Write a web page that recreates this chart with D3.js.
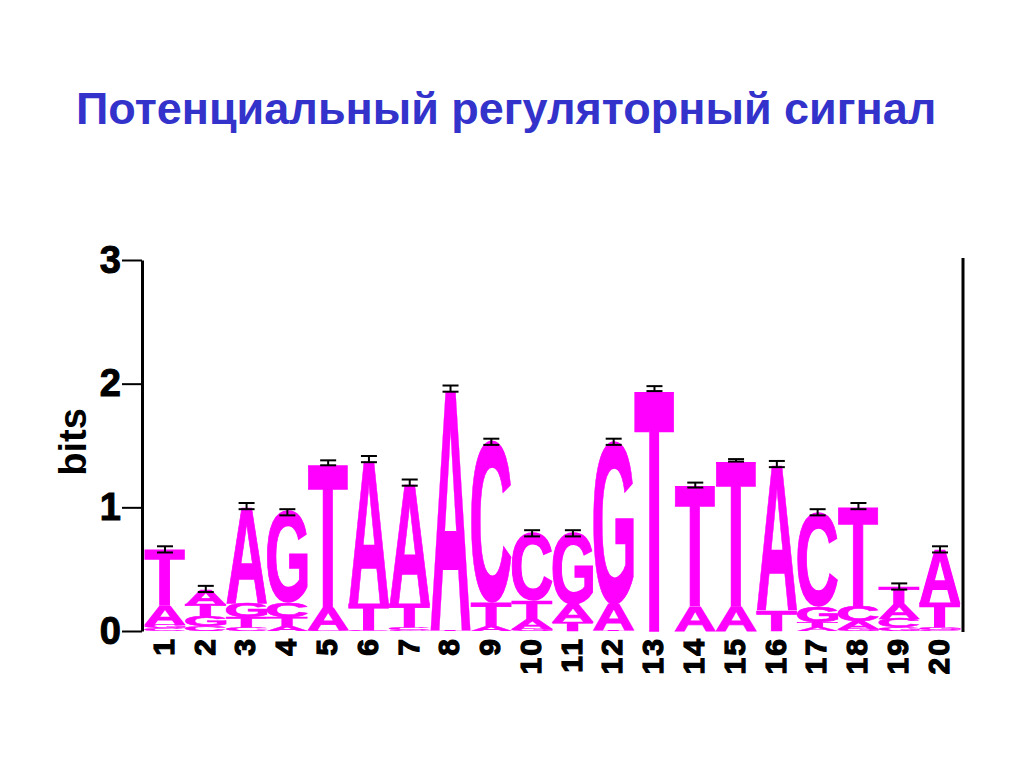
<!DOCTYPE html>
<html><head><meta charset="utf-8">
<script src="https://cdn.jsdelivr.net/npm/d3@7"></script>
<style>body{margin:0;background:#fff} svg{display:block}</style>
</head><body>
<svg id="c" width="1024" height="768"></svg>
<script>
// ---- data (bits per letter, per position) ----
const positions = ["1","2","3","4","5","6","7","8","9","10","11","12","13","14","15","16","17","18","19","20"];
const bitsA = [0.16,0.13,0.78,0.04,0.18,1.17,0.98,1.95,0.04,0.08,0.15,0.21,0.00,0.20,0.20,1.18,0.03,0.06,0.12,0.43];
const bitsC = [0.02,0.04,0.03,0.12,0.01,0.01,0.02,0.00,1.30,0.54,0.00,0.00,0.00,0.00,0.00,0.00,0.76,0.13,0.07,0.01];
const bitsG = [0.03,0.08,0.12,0.73,0.00,0.00,0.01,0.00,0.00,0.02,0.57,1.31,0.00,0.00,0.00,0.00,0.13,0.02,0.03,0.02];
const bitsT = [0.45,0.09,0.08,0.07,1.17,0.21,0.19,0.01,0.19,0.15,0.07,0.01,1.96,0.98,1.18,0.17,0.04,0.80,0.14,0.20];
const errorBits = [0.025,0.025,0.025,0.025,0.02,0.025,0.025,0.025,0.025,0.025,0.025,0.025,0.02,0.02,0.01,0.025,0.025,0.025,0.025,0.025];
const yTicks = [0,1,2,3];
const titleText = "Потенциальный регуляторный сигнал";
const yLabel = "bits";

const letters = ["A","C","G","T"];
const table = positions.map((p,i)=>{
  const entries = [
    {l:"A", v:bitsA[i]},{l:"C", v:bitsC[i]},{l:"G", v:bitsG[i]},{l:"T", v:bitsT[i]}
  ].sort((a,b)=>a.v-b.v);
  let acc = 0;
  entries.forEach(e=>{ e.y0 = acc; acc += e.v; e.y1 = acc; });
  return {pos:p, entries, total:acc, err:errorBits[i]};
});

const svg = d3.select("#c");
const logoColor = "#ff00ff";
const FONT = "'Liberation Sans', Arial, sans-serif";

// title
svg.append("text")
  .attr("x", 76).attr("y", 124)
  .attr("font-family", FONT)
  .attr("font-weight", "bold")
  .attr("font-size", 45)
  .attr("fill", "#3333cc")
  .text(titleText);

const x = d3.scaleBand().domain(positions).range([145, 960]).paddingInner(0.02).paddingOuter(0);
const y = d3.scaleLinear().domain([0,3]).range([631, 260]);

// glyph metrics
const ctx = document.createElement("canvas").getContext("2d");
ctx.font = "bold 100px 'Liberation Sans'";
const metrics = {};
letters.forEach(L=>{
  const m = ctx.measureText(L);
  metrics[L] = {left:m.actualBoundingBoxLeft, right:m.actualBoundingBoxRight, asc:m.actualBoundingBoxAscent, desc:m.actualBoundingBoxDescent};
});

const g = svg.append("g");
table.forEach(col=>{
  const x0 = x(col.pos), w = x.bandwidth();
  col.entries.forEach(e=>{
    const yb = y(e.y0), yt = y(e.y1);
    const h = yb - yt;
    if (h < 0.6) return;
    const m = metrics[e.l];
    const sx = w/(m.left+m.right), sy = h/(m.asc+m.desc);
    g.append("text")
      .attr("x",0).attr("y",0)
      .attr("font-family",FONT)
      .attr("font-weight","bold")
      .attr("font-size",100)
      .attr("fill",logoColor)
      .attr("stroke",logoColor)
      .attr("stroke-width",1.2)
      .attr("vector-effect","non-scaling-stroke")
      .attr("transform",`translate(${x0},${yb}) scale(${sx},${sy}) translate(${m.left},${-m.desc})`)
      .text(e.l);
  });
  // error bar
  const cx = x0 + w/2;
  const yu = y(col.total + col.err), yd = y(col.total - col.err);
  const eb = g.append("g").attr("stroke","#000").attr("stroke-width",2);
  eb.append("line").attr("x1",cx).attr("x2",cx).attr("y1",yu).attr("y2",yd);
  eb.append("line").attr("x1",cx-8).attr("x2",cx+8).attr("y1",yu).attr("y2",yu);
  eb.append("line").attr("x1",cx-8).attr("x2",cx+8).attr("y1",yd).attr("y2",yd);
});

// y axis
const ax = svg.append("g").attr("transform","translate(142,0)")
  .call(d3.axisLeft(y).tickValues(yTicks).tickSize(20).tickSizeOuter(0).tickPadding(1).tickFormat(d3.format("d")));
ax.select(".domain").attr("stroke","#000").attr("stroke-width",3);
ax.selectAll(".tick line").attr("stroke","#000").attr("stroke-width",2);
ax.selectAll(".tick text")
  .attr("font-family",FONT)
  .attr("font-weight","bold").attr("font-size",38).attr("fill","#000")
  .attr("stroke","#000").attr("stroke-width",1);

// right frame line
svg.append("line").attr("x1",963).attr("x2",963).attr("y1",y(3)-2).attr("y2",y(0)+1)
  .attr("stroke","#000").attr("stroke-width",3);

// y label
svg.append("text")
  .attr("transform","translate(86,442) rotate(-90)")
  .attr("text-anchor","middle")
  .attr("font-family",FONT)
  .attr("font-weight","bold").attr("font-size",38).attr("fill","#000")
  .text(yLabel);

// x labels
svg.append("g").selectAll("text").data(positions).join("text")
  .attr("transform",d=>`translate(${x(d)+x.bandwidth()/2-2},637) rotate(-90)`)
  .attr("text-anchor","end")
  .attr("dy","0.36em")
  .attr("letter-spacing",2)
  .attr("font-family",FONT)
  .attr("font-weight","bold").attr("font-size",30).attr("fill","#000")
  .attr("stroke","#000").attr("stroke-width",1.2)
  .text(d=>d);
</script>
</body></html>
